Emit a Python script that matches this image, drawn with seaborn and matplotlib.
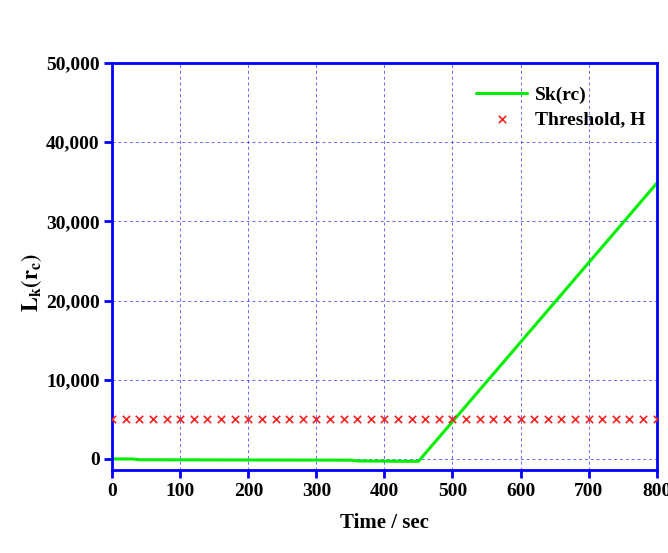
import matplotlib
matplotlib.use("Agg")
import matplotlib.pyplot as plt
import seaborn as sns
import pandas as pd
from matplotlib.ticker import FuncFormatter

# Statistic Sk(rc) over time
time_s = [0, 30, 40, 350, 360, 450, 800]
sk_values = [0, 0, -100, -150, -250, -300, 34800]

# Threshold H sampled every 20 s
threshold_time = list(range(0, 801, 20))
threshold_value = [5000] * len(threshold_time)

x_ticks = [0, 100, 200, 300, 400, 500, 600, 700, 800]
y_ticks = [0, 10000, 20000, 30000, 40000, 50000]

sns.set_theme(style="white")
plt.rcParams["font.family"] = ["Liberation Serif", "DejaVu Serif"]
plt.rcParams["mathtext.fontset"] = "stix"
plt.rcParams["text.color"] = "black"
plt.rcParams["axes.labelcolor"] = "black"
plt.rcParams["xtick.labelcolor"] = "black"
plt.rcParams["ytick.labelcolor"] = "black"

fig = plt.figure(figsize=(6.68, 5.53), dpi=100)
ax = fig.add_axes([0.168, 0.15, 0.815, 0.736])

df_sk = pd.DataFrame({"t": time_s, "v": sk_values})
df_h = pd.DataFrame({"t": threshold_time, "v": threshold_value})

sns.lineplot(data=df_sk, x="t", y="v", ax=ax, color="#00ee00", linewidth=2.2,
             label="Sk(rc)")
sns.scatterplot(data=df_h, x="t", y="v", ax=ax, color="#ff2020", marker="x",
                s=28, linewidth=1.2, label="Threshold, H", zorder=3)

blue = "#0000ff"
ax.set_xlim(0, 800)
ax.set_ylim(-1400, 50000)
ax.set_xticks(x_ticks)
ax.set_yticks(y_ticks)
ax.yaxis.set_major_formatter(FuncFormatter(lambda v, p: f"{int(v):,}"))

ax.grid(True, color="#3333ff", linestyle=(0, (3, 3)), linewidth=0.7, alpha=0.75)
for s in ax.spines.values():
    s.set_color(blue)
    s.set_linewidth(2)
ax.tick_params(axis="both", which="major", direction="out", length=6, width=2,
               color=blue, labelsize=14, pad=3, labelcolor="black",
               bottom=True, left=True, top=False, right=False)
for lbl in ax.get_xticklabels() + ax.get_yticklabels():
    lbl.set_fontweight("bold")

ax.set_xlabel("Time / sec", fontsize=15, fontweight="bold", labelpad=10,
              color="black")
ax.set_ylabel(r"$\mathbf{L_k(r_c)}$", fontsize=16, color="black")
ax.yaxis.set_label_coords(-0.125, 0.46)

leg = ax.legend(loc="upper right", bbox_to_anchor=(1.0, 0.972), frameon=False,
                prop={"weight": "bold", "size": 14}, handlelength=2.6,
                borderaxespad=0.2, labelspacing=0.35, handletextpad=0.4)
for t in leg.get_texts():
    t.set_color("black")

fig.savefig("out.png", dpi=100, facecolor="white")
